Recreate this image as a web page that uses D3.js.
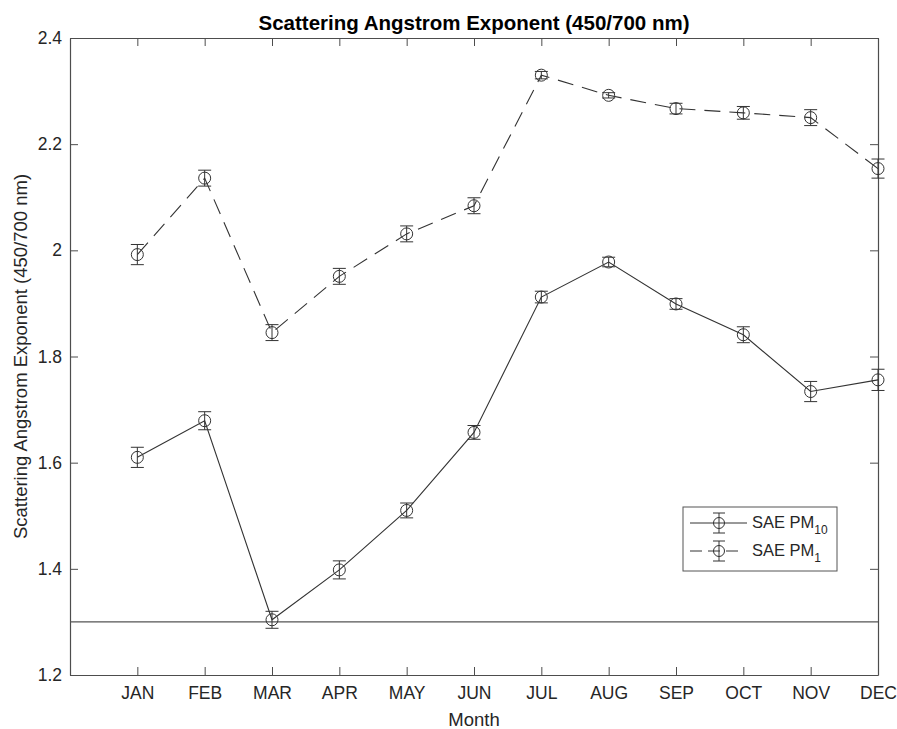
<!DOCTYPE html>
<html>
<head>
<meta charset="utf-8">
<script src="https://cdn.jsdelivr.net/npm/d3@7"></script>
<style>
  body { margin: 0; background: #fff; }
  svg { font-family: "Liberation Sans", Arial, sans-serif; }
  .axis path, .axis line { stroke: #4d4d4d; }
  .axis text { fill: #262626; font-size: 17.5px; }
</style>
</head>
<body>
<script>
// month labels and series values
var months = ["JAN","FEB","MAR","APR","MAY","JUN","JUL","AUG","SEP","OCT","NOV","DEC"];
var pm10 = [1.610, 1.679, 1.304, 1.398, 1.510, 1.657, 1.912, 1.978, 1.899, 1.841, 1.734, 1.756];
var pm10Err = [0.019, 0.017, 0.016, 0.017, 0.014, 0.013, 0.011, 0.009, 0.010, 0.015, 0.019, 0.020];
var pm1 = [1.992, 2.136, 1.845, 1.951, 2.031, 2.084, 2.330, 2.292, 2.267, 2.259, 2.250, 2.154];
var pm1Err = [0.019, 0.015, 0.015, 0.015, 0.015, 0.015, 0.007, 0.005, 0.010, 0.012, 0.015, 0.018];
var yTicks = [1.2, 1.4, 1.6, 1.8, 2.0, 2.2, 2.4];
var refLine = 1.3;

window.onload = drawChart();

function drawChart(){
    var width = 897,
        height = 729;
    var margin = {left: 70, right: 19, top: 38, bottom: 54};

    var svg = d3.select("body")
        .append("svg")
        .attr("width", width)
        .attr("height", height);

    var x = d3.scaleLinear()
        .domain([0, 12])
        .range([margin.left, width - margin.right]);
    var y = d3.scaleLinear()
        .domain([1.2, 2.4])
        .range([height - margin.bottom, margin.top]);

    // axes, ticks pointing inward (box on)
    svg.append("g")
        .attr("class", "axis")
        .attr("transform", "translate(0," + y(1.2) + ")")
        .call(d3.axisBottom(x)
            .tickValues(d3.range(1, 13))
            .tickFormat(function(d){ return months[d - 1]; })
            .tickSizeInner(-8).tickSizeOuter(0).tickPadding(12));
    svg.append("g")
        .attr("class", "axis")
        .attr("transform", "translate(0," + y(2.4) + ")")
        .call(d3.axisTop(x)
            .tickValues(d3.range(1, 13))
            .tickFormat("")
            .tickSizeInner(-8).tickSizeOuter(0));
    svg.append("g")
        .attr("class", "axis")
        .attr("transform", "translate(" + x(0) + ",0)")
        .call(d3.axisLeft(y)
            .tickValues(yTicks)
            .tickFormat(function(d){ return d === 2 ? "2" : d3.format(".1f")(d); })
            .tickSizeInner(-8).tickSizeOuter(0).tickPadding(8));
    svg.append("g")
        .attr("class", "axis")
        .attr("transform", "translate(" + x(12) + ",0)")
        .call(d3.axisRight(y)
            .tickValues(yTicks)
            .tickFormat("")
            .tickSizeInner(-8).tickSizeOuter(0));
    svg.selectAll(".axis .domain").attr("stroke-width", 1.2);

    // horizontal reference line
    svg.append("line")
        .attr("x1", x(0)).attr("x2", x(12))
        .attr("y1", y(refLine)).attr("y2", y(refLine))
        .attr("stroke", "#555")
        .attr("stroke-width", 1.3);

    var series = [
        {name: "PM10", values: pm10, err: pm10Err, dash: null},
        {name: "PM1", values: pm1, err: pm1Err, dash: "16,9"}
    ];

    var line = d3.line()
        .x(function(d, i){ return x(i + 1); })
        .y(function(d){ return y(d); });

    series.forEach(function(s){
        var g = svg.append("g");
        g.append("path")
            .datum(s.values)
            .attr("d", line)
            .attr("fill", "none")
            .attr("stroke", "#333")
            .attr("stroke-width", 1.1)
            .attr("stroke-dasharray", s.dash);

        var pts = g.selectAll(".pt")
            .data(s.values)
            .enter()
            .append("g")
            .attr("class", "pt");
        pts.append("line")
            .attr("x1", function(d, i){ return x(i + 1); })
            .attr("x2", function(d, i){ return x(i + 1); })
            .attr("y1", function(d, i){ return y(d - s.err[i]); })
            .attr("y2", function(d, i){ return y(d + s.err[i]); })
            .attr("stroke", "#333");
        [-1, 1].forEach(function(sign){
            pts.append("line")
                .attr("x1", function(d, i){ return x(i + 1) - 6.5; })
                .attr("x2", function(d, i){ return x(i + 1) + 6.5; })
                .attr("y1", function(d, i){ return y(d + sign * s.err[i]); })
                .attr("y2", function(d, i){ return y(d + sign * s.err[i]); })
                .attr("stroke", "#333");
        });
        pts.append("circle")
            .attr("cx", function(d, i){ return x(i + 1); })
            .attr("cy", function(d){ return y(d); })
            .attr("r", 6)
            .attr("fill", "none")
            .attr("stroke", "#333");
    });

    // legend
    var lg = svg.append("g");
    lg.append("rect")
        .attr("x", 683).attr("y", 507)
        .attr("width", 154).attr("height", 64)
        .attr("fill", "#fff")
        .attr("stroke", "#555");
    series.forEach(function(s, k){
        var ly = 523 + k * 28;
        lg.append("line")
            .attr("x1", 690).attr("x2", s.dash ? 739 : 747)
            .attr("y1", ly).attr("y2", ly)
            .attr("stroke", "#333")
            .attr("stroke-dasharray", s.dash ? "12,6" : null);
        lg.append("line")
            .attr("x1", 719).attr("x2", 719)
            .attr("y1", ly - 10).attr("y2", ly + 10)
            .attr("stroke", "#333");
        [-10, 10].forEach(function(o){
            lg.append("line")
                .attr("x1", 713).attr("x2", 725)
                .attr("y1", ly + o).attr("y2", ly + o)
                .attr("stroke", "#333");
        });
        lg.append("circle")
            .attr("cx", 719).attr("cy", ly)
            .attr("r", 5.5)
            .attr("fill", "none")
            .attr("stroke", "#333");
        var t = lg.append("text")
            .attr("x", 752).attr("y", ly + 5)
            .attr("font-size", "16.5px")
            .attr("fill", "#262626")
            .text("SAE PM");
        t.append("tspan")
            .attr("dy", 6)
            .attr("font-size", "12px")
            .attr("fill", "#262626")
            .text(s.name.replace("PM", ""));
    });

    // title and axis labels
    svg.append("text")
        .attr("x", (x(0) + x(12)) / 2)
        .attr("y", 30)
        .attr("text-anchor", "middle")
        .attr("font-size", "20.5px")
        .attr("font-weight", "bold")
        .attr("fill", "#000")
        .text("Scattering Angstrom Exponent (450/700 nm)");
    svg.append("text")
        .attr("x", (x(0) + x(12)) / 2)
        .attr("y", 726)
        .attr("text-anchor", "middle")
        .attr("font-size", "18.5px")
        .attr("fill", "#262626")
        .text("Month");
    svg.append("text")
        .attr("transform", "translate(27," + (y(1.2) + y(2.4)) / 2 + ") rotate(-90)")
        .attr("text-anchor", "middle")
        .attr("font-size", "18.5px")
        .attr("fill", "#262626")
        .text("Scattering Angstrom Exponent (450/700 nm)");
}
</script>
</body>
</html>
